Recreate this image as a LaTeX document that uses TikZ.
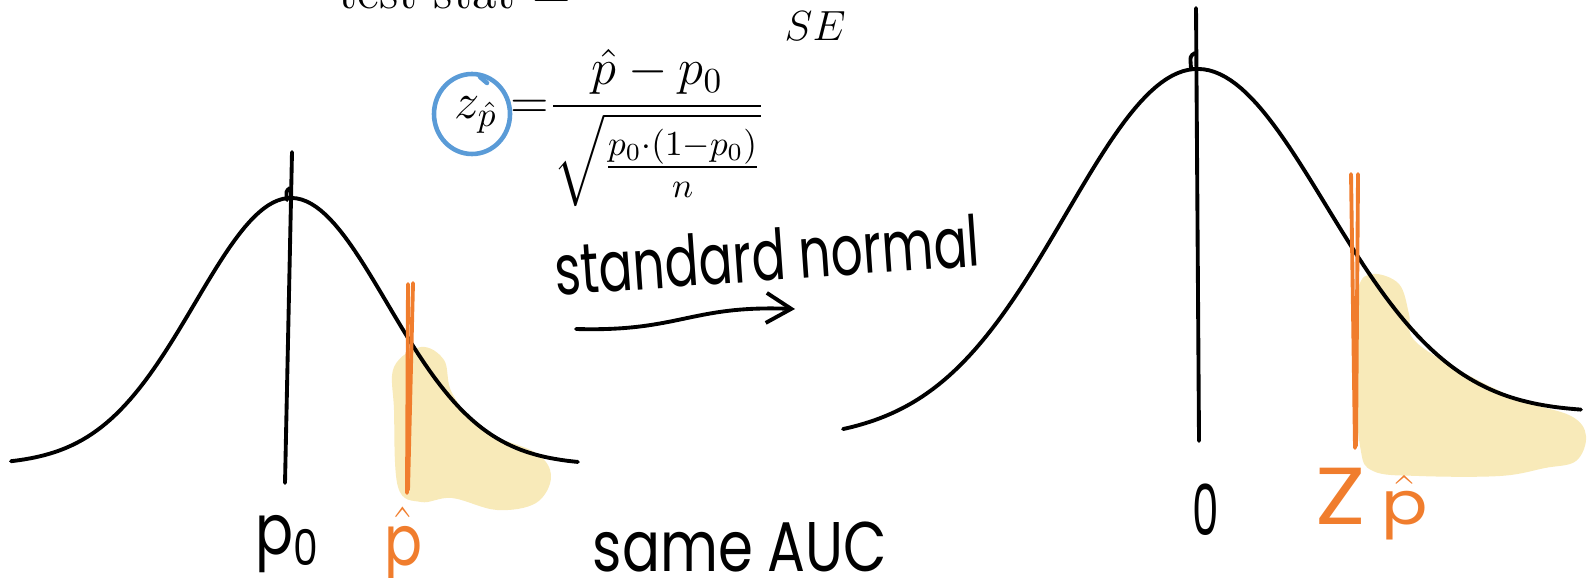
\documentclass[tikz,border=0pt]{standalone}
\usepackage{amsmath}
\usepackage{fontspec}
\newfontfamily\handfont{Poppins}
\usetikzlibrary{arrows.meta,positioning}
\definecolor{hlorange}{RGB}{240,125,45}
\definecolor{hlyellow}{RGB}{248,234,185}
\definecolor{circblue}{RGB}{90,155,215}
\tikzset{
  curve/.style={line width=1.1pt, line cap=round, line join=round},
  markline/.style={draw=hlorange, line width=1.1pt, line cap=round},
  blob/.style={fill=hlyellow, draw=none},
  hand/.style={font=\handfont\fontsize{20}{22}\selectfont, inner sep=0pt},
  mathtxt/.style={font=\fontsize{13.7}{16}\selectfont, inner sep=0pt},
}

\begin{document}
\begin{tikzpicture}
  \useasboundingbox (0,0) rectangle (15.89,-5.78);
  \clip (0,0) rectangle (15.89,-5.78);

  % formula at the top
  \node[mathtxt, font=\fontsize{14.2}{16}\selectfont, anchor=base west] (tstat) at (3.38,-0.09) {test stat $=$};
  \node[mathtxt, font=\fontsize{13.2}{15}\selectfont, anchor=base west] (se) at (7.84,-0.41) {$SE$};
  \node[mathtxt, anchor=base] (zsym) at (4.76,-1.19) {$z_{\hat p}$};
  \node[mathtxt, anchor=base west, xshift=1.2mm] (zfrac) at (zsym.base east)
    {$\mathord{=}\dfrac{\hat p - p_0}{\sqrt{\frac{p_0\cdot(1-p_0)}{n}}}$};
  \coordinate (zring) at (4.72,-1.14);
  \draw[circblue, line width=1.3pt] (zring) ellipse [x radius=0.38, y radius=0.40];
  \draw[circblue, line width=1.3pt, line cap=round] ([shift={(0.08,0.37)}]zring) -- ++(0.07,-0.06);

  % shaded tails
  \fill[blob] plot[smooth cycle, tension=0.6] coordinates {(3.94,-3.67) (4.21,-3.47) (4.44,-3.60)
    (4.52,-3.93) (4.82,-4.30) (5.36,-4.53) (5.51,-4.77) (5.36,-5.03) (4.97,-5.10) (4.52,-4.98)
    (4.21,-5.02) (3.98,-4.87) (3.94,-4.10)};
  \fill[blob] plot[smooth cycle, tension=0.6] coordinates {(13.58,-2.89) (13.73,-2.74) (13.99,-2.84)
    (14.09,-3.14) (14.14,-3.40) (14.59,-3.70) (15.20,-4.00) (15.71,-4.16) (15.86,-4.36) (15.76,-4.61)
    (15.45,-4.68) (15.00,-4.76) (14.19,-4.76) (13.73,-4.71) (13.60,-4.46) (13.53,-3.55)};

  % bell curves
  \draw[curve] plot[domain=0.11:5.78, samples=120]
    (\x, {-4.65 + 2.67*exp(-((\x-2.91)^2)/1.8432)});
  \draw[curve] plot[domain=8.43:15.81, samples=140]
    (\x, {-4.38 + 0.0325*(\x-8.43) + 3.575*exp(-((\x-11.96)^2)/3.38)});

  % centre lines
  \coordinate (laxtop) at (2.92,-1.52);
  \coordinate (laxbot) at (2.85,-4.83);
  \coordinate (raxtop) at (11.96,-0.08);
  \coordinate (raxbot) at (11.99,-4.41);
  \draw[curve] (laxtop) -- (laxbot);
  \draw[curve] (raxtop) -- (raxbot);
  \draw[curve] (2.90,-1.88) .. controls (2.86,-1.91) .. (2.87,-2.00);
  \draw[curve] (11.95,-0.53) .. controls (11.90,-0.56) .. (11.91,-0.68);

  % observed values
  \coordinate (lmarktop) at (4.08,-2.84);
  \coordinate (lmarkbot) at (4.07,-4.93);
  \coordinate (lmarktopb) at (4.13,-2.83);
  \coordinate (lmarkbotb) at (4.08,-4.90);
  \draw[markline] (lmarktop) -- (lmarkbot);
  \draw[markline] (lmarktopb) -- (lmarkbotb);
  \coordinate (rmarktop) at (13.51,-1.74);
  \coordinate (rmarkbot) at (13.55,-4.48);
  \coordinate (rmarktopb) at (13.58,-1.74);
  \coordinate (rmarkbotb) at (13.56,-4.46);
  \draw[markline] (rmarktop) -- (rmarkbot);
  \draw[markline] (rmarktopb) -- (rmarkbotb);

  % handwritten labels
  \node[hand, xscale=0.8] (lblpzero) at (2.88,-5.44) {p\textsubscript{0}};
  \node[hand, text=hlorange, xscale=0.8] (lblphat) at (4.03,-5.45) {$\hat{\text{p}}$};
  \node[hand, xscale=0.8] (lblsame) at (7.40,-5.47) {same AUC};
  \node[hand, xscale=0.6] (lblzero) at (12.06,-5.10) {0};
  \node[hand, text=hlorange, font=\handfont\fontsize{23}{24}\selectfont, xscale=1.15] (lblz) at (13.72,-5.04)
    {Z\,{\fontsize{17}{17}\selectfont$\hat{\text{p}}$}};
  \node[hand, rotate=4, xscale=0.715] (lblstd) at (7.67,-2.55) {standard normal};

  % arrow
  \coordinate (arrfrom) at (5.76,-3.29);
  \coordinate (arrto) at (7.95,-3.09);
  \draw[curve, -{Straight Barb[length=2.5mm, width=3mm]}] (arrfrom)
    .. controls (6.80,-3.32) and (6.90,-3.05) .. (arrto);
\end{tikzpicture}
\end{document}
